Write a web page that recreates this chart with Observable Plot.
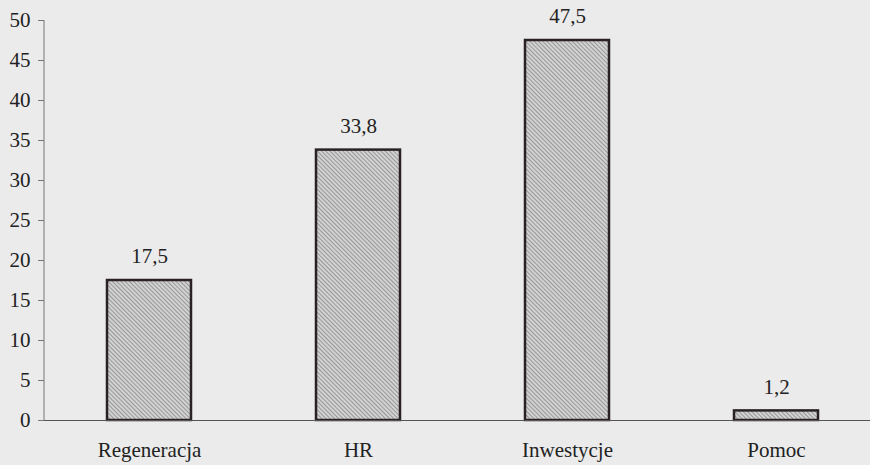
<!DOCTYPE html>
<html>
<head>
<meta charset="utf-8">
<script src="https://cdn.jsdelivr.net/npm/d3@7"></script>
<script src="https://cdn.jsdelivr.net/npm/@observablehq/plot@0.6"></script>
<style>
  html, body { margin: 0; padding: 0; background: #ebebeb; }
  #chart svg { display: block; }
</style>
</head>
<body>
<div id="chart"></div>
<script>
const categories = ["Regeneracja", "HR", "Inwestycje", "Pomoc"];
const values = [17.5, 33.8, 47.5, 1.2];
const valueLabels = ["17,5", "33,8", "47,5", "1,2"];
const yTicks = [0, 5, 10, 15, 20, 25, 30, 35, 40, 45, 50];

const data = categories.map((c, i) => ({cat: c, value: values[i], label: valueLabels[i]}));
const serif = "'Liberation Serif', 'Times New Roman', serif";

const chart = Plot.plot({
  width: 870,
  height: 465,
  marginTop: 20,
  marginBottom: 45,
  marginLeft: 44,
  marginRight: 0,
  style: {background: "#ebebeb", fontSize: "21px", color: "#222"},
  x: {domain: categories, range: [44, 880], paddingInner: 0.6, paddingOuter: 0.3, label: null},
  y: {domain: [0, 50], label: null},
  marks: [
    Plot.axisY({ticks: yTicks, tickSize: 6, tickPadding: 8, fontSize: 21, fill: "#222", stroke: "#777"}),
    Plot.axisX({tickSize: 0, tickPadding: 22, fontSize: 21, fill: "#222"}),
    Plot.barY(data, {x: "cat", y: "value", fill: "url(#hatch)", stroke: "#2a2222", strokeWidth: 2.5}),
    Plot.ruleY([0], {stroke: "#555", strokeWidth: 1}),
    Plot.text(data, {x: "cat", y: "value", text: "label", dy: -24, fontSize: 21, fill: "#222"})
  ]
});

const svg = d3.select(chart);
svg.style("font-family", serif);
svg.selectAll("text, g").style("font-family", serif);

svg.append("line")
  .attr("x1", 44).attr("x2", 44).attr("y1", 20).attr("y2", 420)
  .attr("stroke", "#777");

const defs = svg.insert("defs", ":first-child");
const pat = defs.append("pattern")
  .attr("id", "hatch")
  .attr("patternUnits", "userSpaceOnUse")
  .attr("width", 3).attr("height", 3)
  .attr("patternTransform", "rotate(-45)");
pat.append("rect").attr("width", 3).attr("height", 3).attr("fill", "#d2d2d2");
pat.append("line").attr("x1", 0).attr("y1", 0).attr("x2", 0).attr("y2", 3)
  .attr("stroke", "#7f7f7f").attr("stroke-width", 1.4);

document.getElementById("chart").appendChild(chart);
</script>
</body>
</html>
